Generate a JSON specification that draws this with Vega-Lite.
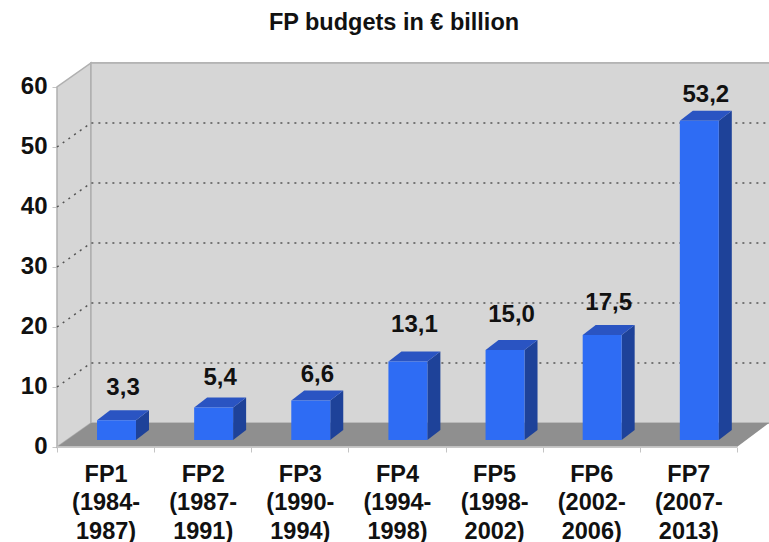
{
  "$schema": "https://vega.github.io/schema/vega-lite/v6.json",
  "width": 712,
  "height": 384,
  "padding": {"left": 57, "top": 63, "right": 0, "bottom": 95},
  "autosize": {"type": "none"},
  "background": "white",
  "title": {
    "text": "FP budgets in € billion",
    "font": "Liberation Sans",
    "fontWeight": "bold",
    "fontSize": 23.5,
    "color": "#111111",
    "anchor": "middle",
    "dx": -19,
    "offset": 26
  },
  "config": {"view": {"stroke": null}},
  "datasets": {
    "budgets": [
      {"fp": 1, "value": 3.3, "label": "3,3"},
      {"fp": 2, "value": 5.4, "label": "5,4"},
      {"fp": 3, "value": 6.6, "label": "6,6"},
      {"fp": 4, "value": 13.1, "label": "13,1"},
      {"fp": 5, "value": 15.0, "label": "15,0"},
      {"fp": 6, "value": 17.5, "label": "17,5"},
      {"fp": 7, "value": 53.2, "label": "53,2"}
    ],
    "depth": [{"k": 0}, {"k": 1}],
    "levels": [{"v": 10}, {"v": 20}, {"v": 30}, {"v": 40}, {"v": 50}]
  },
  "layer": [
    {
      "description": "Left wall, carrying both axes",
      "data": {"name": "depth"},
      "transform": [
        {"calculate": "0.5 + datum.k * 0.35", "as": "wx"},
        {"calculate": "-1.1667 + datum.k * 4", "as": "wy"},
        {"calculate": "datum.wy + 60", "as": "wy2"}
      ],
      "mark": {"type": "area", "color": "#d6d6d6", "stroke": "#b0b0b0", "strokeWidth": 1.5},
      "encoding": {
        "x": {
          "field": "wx",
          "type": "quantitative",
          "scale": {"domain": [0.5, 7.83], "nice": false, "zero": false},
          "axis": {
            "title": null,
            "grid": false,
            "domain": false,
            "values": [0.5, 1, 1.5, 2, 2.5, 3, 3.5, 4, 4.5, 5, 5.5, 6, 6.5, 7, 7.5],
            "tickSize": 5,
            "tickColor": "#c4c4c4",
            "tickOpacity": {"condition": {"test": "datum.value % 1 === 0", "value": 0}, "value": 1},
            "labelExpr": "datum.value % 1 ? '' : [['FP1','(1984-','1987)'],['FP2','(1987-','1991)'],['FP3','(1990-','1994)'],['FP4','(1994-','1998)'],['FP5','(1998-','2002)'],['FP6','(2002-','2006)'],['FP7','(2007-','2013)']][datum.value - 1]",
            "labelFont": "Liberation Sans",
            "labelFontWeight": "bold",
            "labelFontSize": 23.5,
            "labelColor": "#111111",
            "labelLineHeight": 28.5,
            "labelPadding": 10,
            "labelOverlap": false,
            "labelFlush": false,
            "labelBound": false
          }
        },
        "y": {
          "field": "wy",
          "type": "quantitative",
          "scale": {"domain": [-1.1667, 62.8333], "nice": false, "zero": false},
          "axis": {
            "title": null,
            "grid": false,
            "domain": false,
            "values": [0, 10, 20, 30, 40, 50, 60],
            "tickOffset": 7,
            "tickSize": 5,
            "tickColor": "#c4c4c4",
            "labelFont": "Liberation Sans",
            "labelFontWeight": "bold",
            "labelFontSize": 24,
            "labelColor": "#111111",
            "labelPadding": 5,
            "labelOverlap": false,
            "labelFlush": false,
            "labelBound": false
          }
        },
        "y2": {"field": "wy2"}
      }
    },
    {
      "description": "Back wall",
      "data": {"name": "depth"},
      "mark": {"type": "rect", "color": "#d6d6d6", "stroke": "#b0b0b0", "strokeWidth": 1.5},
      "encoding": {
        "x": {"datum": 0.85},
        "x2": {"datum": 7.9},
        "y": {"datum": 2.8333},
        "y2": {"datum": 62.8333}
      }
    },
    {
      "description": "Floor",
      "data": {"name": "depth"},
      "transform": [
        {"calculate": "0.5 + datum.k * 0.35", "as": "fx"},
        {"calculate": "7.5 + datum.k * 0.33", "as": "fx2"},
        {"calculate": "-1.1667 + datum.k * 4", "as": "fy"}
      ],
      "mark": {"type": "area", "orient": "horizontal", "color": "#8f8f8f"},
      "encoding": {
        "y": {"field": "fy", "type": "quantitative"},
        "x": {"field": "fx", "type": "quantitative"},
        "x2": {"field": "fx2"}
      }
    },
    {
      "description": "Front edge of the floor",
      "data": {"name": "depth"},
      "mark": {"type": "rule", "color": "#c4c4c4", "strokeWidth": 1.5},
      "encoding": {
        "x": {"datum": 0.5},
        "x2": {"datum": 7.5},
        "y": {"datum": -1.1667}
      }
    },
    {
      "description": "Dotted gridlines running along the side and back walls",
      "data": {"name": "levels"},
      "transform": [
        {"calculate": "[0, 1, 2]", "as": "k"},
        {"flatten": ["k"]},
        {"calculate": "[0.5, 0.85, 7.83][datum.k]", "as": "gx"},
        {"calculate": "datum.v + [-1.1667, 2.8333, 2.8333][datum.k]", "as": "gy"}
      ],
      "mark": {"type": "line", "color": "#555555", "strokeWidth": 1.5, "strokeDash": [2, 5]},
      "encoding": {
        "x": {"field": "gx", "type": "quantitative"},
        "y": {"field": "gy", "type": "quantitative"},
        "detail": {"field": "v"}
      }
    },
    {
      "description": "Right side face of each column",
      "data": {"name": "budgets"},
      "transform": [
        {"calculate": "[0, 1]", "as": "k"},
        {"flatten": ["k"]},
        {"calculate": "datum.fp + 0.313 + datum.k * 0.134", "as": "sx"},
        {"calculate": "datum.k * 1.667", "as": "sy"},
        {"calculate": "datum.value + datum.k * 1.667", "as": "sy2"}
      ],
      "mark": {"type": "area", "color": "#1e4299"},
      "encoding": {
        "x": {"field": "sx", "type": "quantitative"},
        "y": {"field": "sy", "type": "quantitative"},
        "y2": {"field": "sy2"},
        "detail": {"field": "fp"}
      }
    },
    {
      "description": "Top face of each column",
      "data": {"name": "budgets"},
      "transform": [
        {"calculate": "[0, 1]", "as": "k"},
        {"flatten": ["k"]},
        {"calculate": "datum.fp - 0.088 + datum.k * 0.134", "as": "tx"},
        {"calculate": "datum.fp + 0.313 + datum.k * 0.134", "as": "tx2"},
        {"calculate": "datum.value + datum.k * 1.667", "as": "ty"}
      ],
      "mark": {"type": "area", "orient": "horizontal", "color": "#2a54c2"},
      "encoding": {
        "y": {"field": "ty", "type": "quantitative"},
        "x": {"field": "tx", "type": "quantitative"},
        "x2": {"field": "tx2"},
        "detail": {"field": "fp"}
      }
    },
    {
      "description": "Front face of each column",
      "data": {"name": "budgets"},
      "transform": [
        {"calculate": "datum.fp - 0.088", "as": "bx"},
        {"calculate": "datum.fp + 0.313", "as": "bx2"}
      ],
      "mark": {"type": "rect", "color": "#2e6cf4"},
      "encoding": {
        "x": {"field": "bx", "type": "quantitative"},
        "x2": {"field": "bx2"},
        "y": {"field": "value", "type": "quantitative"},
        "y2": {"datum": 0}
      }
    },
    {
      "description": "Value labels above the columns",
      "data": {"name": "budgets"},
      "transform": [
        {"calculate": "datum.fp + 0.18", "as": "lx"},
        {"calculate": "datum.value + [32, 30, 25, 36, 35, 32, 26][datum.fp - 1] / 6", "as": "ly"}
      ],
      "mark": {"type": "text", "font": "Liberation Sans", "fontWeight": "bold", "fontSize": 24, "color": "#111111", "baseline": "middle", "align": "center"},
      "encoding": {
        "x": {"field": "lx", "type": "quantitative"},
        "y": {"field": "ly", "type": "quantitative"},
        "text": {"field": "label"}
      }
    }
  ]
}
